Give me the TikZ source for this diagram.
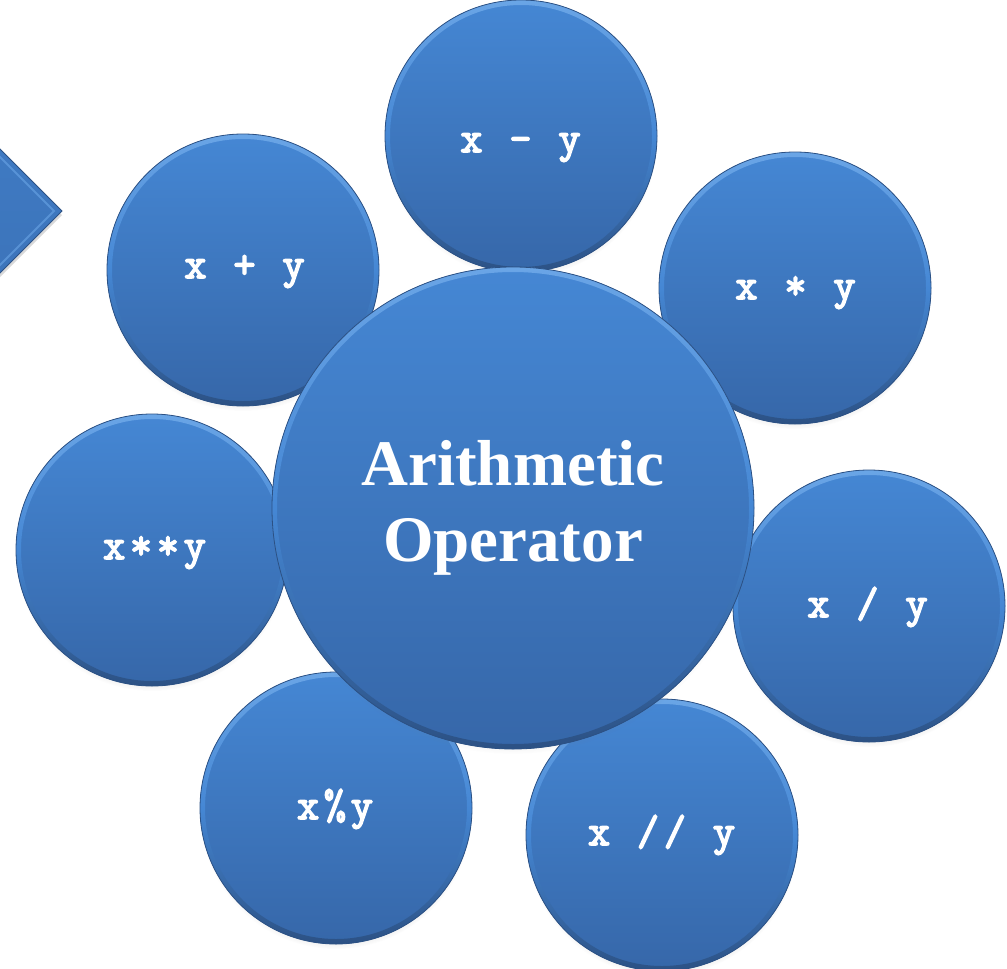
\documentclass[tikz,border=0pt]{standalone}
\usepackage{fontspec}
\setmainfont{Liberation Serif}
\newfontfamily\opfont{Latin Modern Mono}[FakeBold=3.5, LetterSpace=11]
\usetikzlibrary{shadows}
\definecolor{btop}{HTML}{4587D4}
\definecolor{bbot}{HTML}{3667A9}
\definecolor{bedge}{HTML}{2C5184}
\definecolor{blight}{HTML}{6AA5E6}
\tikzset{
  bub/.style={circle, minimum size=#1, inner sep=0pt, top color=btop, bottom color=bbot,
    draw=bedge, line width=0.8pt, text=white,
    circular drop shadow={shadow xshift=0pt, shadow yshift=-5pt, opacity=0.35, shadow scale=1.0},
    path picture={\shade[even odd rule, top color=blight, bottom color=bedge, middle color=btop]
      (path picture bounding box.center) circle (#1/2)
      (path picture bounding box.center) circle (#1/2-5pt);}},
  op/.style={bub=272pt},
  optext/.style={anchor=base, inner sep=0pt, text=white, font=\opfont\fontsize{43}{45}\selectfont},
  hub/.style={bub=482pt, align=center, font=\rmfamily\bfseries\fontsize{65}{76}\selectfont},
}
\begin{document}
\begin{tikzpicture}[x=1pt, y=-1pt]
\useasboundingbox (0,0) rectangle (1007,969);
\clip (0,0) rectangle (1007,969);
% left arrow shape (partly outside)
\shadedraw[top color=btop, bottom color=bbot, draw=bedge, line width=0.8pt,
  drop shadow={shadow xshift=0pt, shadow yshift=-4pt, opacity=0.3}]
  (-300,-151) -- (62,211) -- (-300,573) -- cycle;
\draw[blight, line width=2pt, opacity=0.6] (-300,-143) -- (54,211) -- (-300,565);
% operator circles
\node[op] (sub)  at (521,136) {};
\node[op] (add)  at (243,270) {};
\node[op] (mul)  at (795,288) {};
\node[op] (pow)  at (152,550) {};
\node[op] (div)  at (869,606) {};
\node[op] (mod)  at (336,808) {};
\node[op] (fdiv) at (662,835) {};
\node[optext] (subT)  at (520.5,152) {x - y};
\node[optext] (addT)  at (244.5,278) {x + y};
\node[optext] (mulT)  at (795.5,299) {x * y};
\node[optext] (powT)  at (154.5,559) {x**y};
\node[optext] (divT)  at (867.5,617) {x / y};
\node[optext] (modT)  at (335,819) {x\%y};
\node[optext] (fdivT) at (661.5,845) {x // y};
% central circle
\node[hub] (main) at (513,508) {Arithmetic\\Operator};
\end{tikzpicture}
\end{document}
